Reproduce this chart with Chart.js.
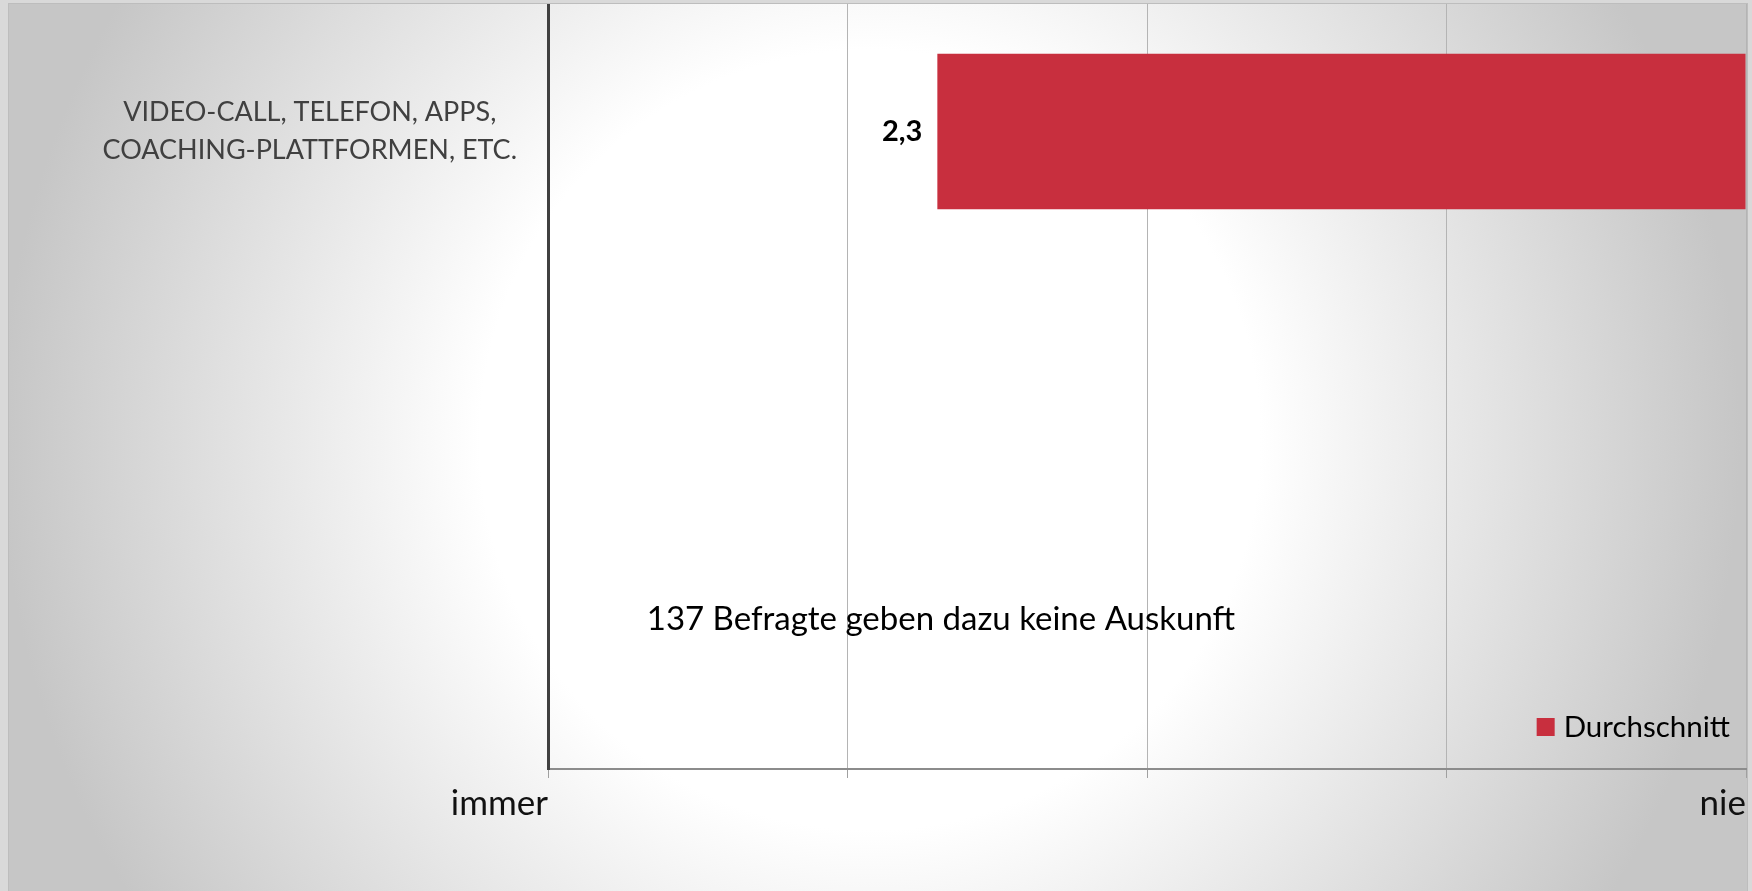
<!DOCTYPE html>
<html lang="de">
<head>
<meta charset="utf-8">
<title>Durchschnitt</title>
<script src="https://cdn.jsdelivr.net/npm/chart.js@4.4.1/dist/chart.umd.min.js"></script>
<style>
  html, body { margin: 0; padding: 0; }
  body {
    width: 1752px;
    height: 891px;
    overflow: hidden;
    position: relative;
    background: #d9d9d9;
  }
  #frame {
    position: absolute;
    left: 8px;
    top: 3px;
    width: 1738px;
    height: 888px;
    border: 1px solid #bdbdbd;
    border-bottom: none;
    background: radial-gradient(circle at 861px 436px, #ffffff 0, #ffffff 390px, #c6c6c6 870px);
  }
  #wrap { position: relative; width: 1738px; height: 887px; }
</style>
</head>
<body>
<div id="frame">
  <div id="wrap"><canvas id="chart"></canvas></div>
</div>
<script>
  // --- Data ---
  const categories = [["VIDEO-CALL, TELEFON, APPS,", "COACHING-PLATTFORMEN, ETC."], "", ""];
  const averages = [2.3, null, null];
  const scaleLabels = ["immer", "", "", "", "nie"];
  const seriesName = "Durchschnitt";
  const noteText = "137 Befragte geben dazu keine Auskunft";

  const FONT = "Lato, 'Open Sans', sans-serif";
  const RED = "#c82f3e";

  function fmt(v) {
    return String(v).replace(".", ",");
  }

  // value labels, legend and the note are drawn on top of the bars
  const overlay = {
    id: "overlay",
    afterDatasetsDraw(chart) {
      const { ctx, chartArea } = chart;
      const ds = chart.data.datasets[0];
      const meta = chart.getDatasetMeta(0);
      ctx.save();

      ctx.font = `bold 29px ${FONT}`;
      ctx.fillStyle = "#000";
      ctx.textAlign = "right";
      ctx.textBaseline = "middle";
      meta.data.forEach((bar, i) => {
        if (averages[i] == null) return;
        ctx.fillText(fmt(averages[i]), bar.x - 15, bar.y);
      });

      // legend, bottom right inside the plot
      ctx.font = `29.5px ${FONT}`;
      ctx.textAlign = "left";
      const tw = ctx.measureText(ds.label).width;
      const textRight = chartArea.right - 16;
      const cy = chartArea.bottom - 42;
      ctx.fillStyle = "#000";
      ctx.fillText(ds.label, textRight - tw, cy);
      ctx.fillStyle = ds.backgroundColor;
      ctx.fillRect(textRight - tw - 27, cy - 9, 18, 18);

      // note
      ctx.font = `33px ${FONT}`;
      ctx.fillStyle = "#000";
      ctx.textAlign = "center";
      const nx = chartArea.left + (chartArea.right - chartArea.left) * 0.328;
      ctx.fillText(noteText, nx, chartArea.bottom - 150);

      ctx.restore();
    },
  };

  function draw() {
    new Chart(document.getElementById("chart"), {
      type: "bar",
      data: {
        labels: categories,
        datasets: [
          {
            label: seriesName,
            data: averages,
            base: scaleLabels.length, // bars grow from "nie"
            backgroundColor: RED,
            borderWidth: 0,
            barPercentage: 0.61,
            categoryPercentage: 1,
          },
        ],
      },
      options: {
        indexAxis: "y",
        responsive: true,
        maintainAspectRatio: false,
        animation: false,
        layout: { padding: { top: 0, right: 1, bottom: 0, left: 0 } },
        plugins: {
          legend: { display: false },
          tooltip: { enabled: false },
        },
        scales: {
          x: {
            type: "linear",
            min: 1,
            max: scaleLabels.length,
            afterFit: (s) => {
              s.height = 122;
              s.paddingLeft = 0;
              s.paddingRight = 0;
            },
            ticks: {
              stepSize: 1,
              autoSkip: false,
              maxRotation: 0,
              align: "end",
              padding: 5,
              color: "#111",
              font: { family: FONT, size: 35 },
              callback: (v) => scaleLabels[v - 1],
            },
            grid: {
              color: "#b4b4b4",
              lineWidth: 1,
              tickLength: 9,
              tickColor: "#a0a0a0",
            },
            border: { color: "#8c8c8c", width: 2 },
          },
          y: {
            afterFit: (s) => {
              s.width = 539;
              s.paddingTop = 0;
              s.paddingBottom = 0;
            },
            ticks: {
              crossAlign: "center",
              padding: 31,
              color: "#404040",
              font: { family: FONT, size: 27, lineHeight: 1.4 },
            },
            grid: { display: false, drawTicks: false },
            border: { color: "#404040", width: 3 },
          },
        },
      },
      plugins: [overlay],
    });
  }

  document.fonts.load(`24px Lato`).then(draw, draw);
</script>
</body>
</html>
